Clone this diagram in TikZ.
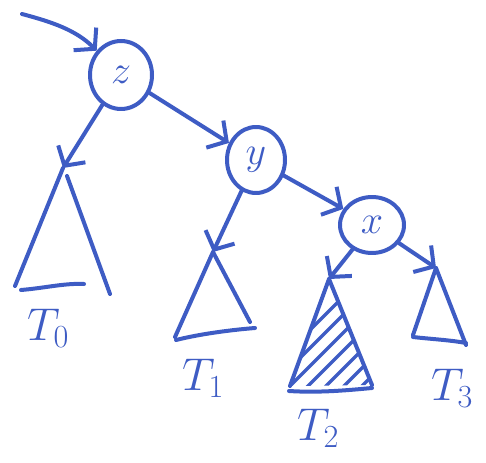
\RequirePackage{fix-cm}
\documentclass[tikz,border=0pt]{standalone}
\usetikzlibrary{shapes.geometric,arrows.meta}
\definecolor{pen}{RGB}{62,92,196}
\begin{document}
\begin{tikzpicture}[x=1pt,y=-1pt,line cap=round,line join=round,
  ink/.style={draw=pen,line width=4pt},
  keynode/.style={ellipse,draw=pen,line width=4pt,inner sep=0pt,text=pen,font=\fontsize{40}{40}\selectfont},
  arr/.style={ink,-{Straight Barb[length=14pt,width=32pt,line width=4pt]}},
  tri/.style={ink},
  hatch/.style={draw=pen,line width=3.2pt},
  lbl/.style={text=pen,font=\fontsize{46}{46}\selectfont,inner sep=0pt}]
\useasboundingbox (0,0) rectangle (486,462);
% key nodes
\node[keynode,minimum width=62pt,minimum height=68pt] (z) at (121,75) {$z$};
\node[keynode,minimum width=58pt,minimum height=66pt] (y) at (256,160) {$y$};
\node[keynode,minimum width=64pt,minimum height=56pt] (x) at (372,225) {$x$};
% apexes of subtrees
\coordinate (a0) at (63,168);
\coordinate (a1) at (213,252);
\coordinate (a2) at (329,279);
\coordinate (a3) at (436,268);
\coordinate (in) at (22,14);
% incoming arrow
\draw[arr] (in) .. controls (52,22) and (76,30) .. (z);
% connectors
\draw[arr] (z) -- (a0);
\draw[arr] (z) -- (y);
\draw[arr] (y) -- (a1);
\draw[arr] (y) -- (x);
\draw[arr] (x) -- (a2);
\draw[arr] (x) -- (a3);
% T0
\draw[tri] (a0) -- (15,286);
\draw[tri] (67,176) -- (110,294);
\draw[tri] (21,290) .. controls (45,288) and (65,283) .. (84,284);
% T1
\draw[tri] (a1) -- (175,337);
\draw[tri] (a1) -- (250,322);
\draw[tri] (176,340) .. controls (200,334) and (230,330) .. (255,328);
% T2 (shaded)
\begin{scope}
\clip (a2) -- (290,386) -- (373,385) -- cycle;
\foreach \c in {640,658,...,750} {
  \draw[hatch] (\c-400,400) -- (\c-280,280);
}
\end{scope}
\draw[tri] (a2) -- (290,386);
\draw[tri] (a2) -- (372,385);
\draw[tri] (289,391) .. controls (320,393) and (350,390) .. (372,388);
% T3
\draw[tri] (a3) -- (413,335);
\draw[tri] (a3) -- (466,345);
\draw[tri] (413,337) .. controls (430,339) and (450,340) .. (466,343);
% labels
\node[lbl] (l0) at (48,328) {$T_0$};
\node[lbl] (l1) at (203,378) {$T_1$};
\node[lbl] (l2) at (318,428) {$T_2$};
\node[lbl] (l3) at (452,388) {$T_3$};
\end{tikzpicture}
\end{document}
